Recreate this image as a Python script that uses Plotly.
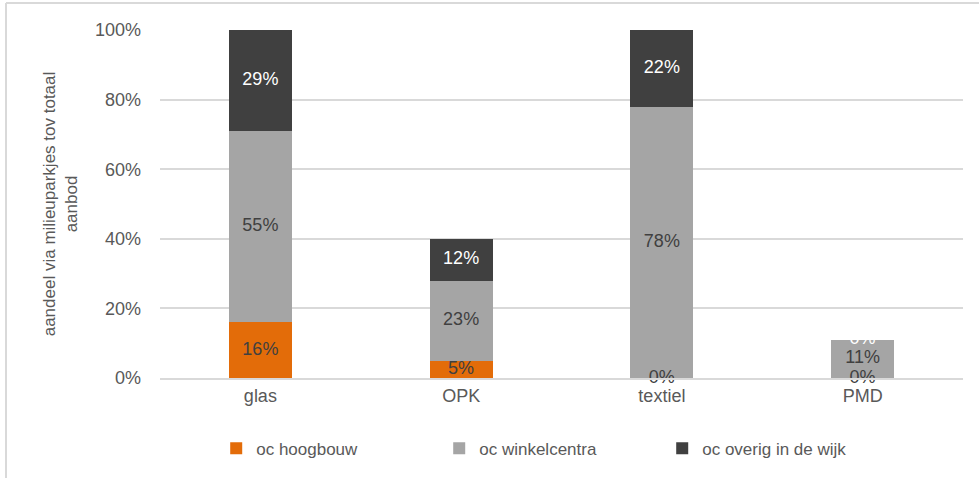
import plotly.graph_objects as go

categories = ["glas", "OPK", "textiel", "PMD"]
series_names = ["oc hoogbouw", "oc winkelcentra", "oc overig in de wijk"]
hoogbouw = [16, 5, 0, 0]
winkelcentra = [55, 23, 78, 11]
overig = [29, 12, 22, 0]
colors = ["#E36C09", "#A5A5A5", "#404040"]
label_colors = ["#404040", "#404040", "#FFFFFF"]
y_ticks = [0, 20, 40, 60, 80, 100]
y_title = "aandeel via milieuparkjes tov totaal<br>aanbod"

FONT = "Liberation Sans, Arial, sans-serif"
fig = go.Figure()
all_series = [hoogbouw, winkelcentra, overig]
for name, vals, col in zip(series_names, all_series, colors):
    fig.add_trace(go.Bar(x=categories, y=vals, name=name, marker_color=col,
                         marker_line_width=0, width=0.315, hoverinfo="skip"))

# data labels
base = [0] * len(categories)
for vals, lc in zip(all_series, label_colors):
    mids = [b + v / 2 for b, v in zip(base, vals)]
    fig.add_trace(go.Scatter(x=categories, y=mids, mode="text",
                             text=[f"{v}%" for v in vals],
                             textfont=dict(family=FONT, size=18, color=lc),
                             showlegend=False, cliponaxis=False, hoverinfo="skip"))
    base = [b + v for b, v in zip(base, vals)]

fig.update_layout(
    barmode="stack",
    width=979, height=478,
    margin=dict(l=160, r=16, t=30, b=99),
    paper_bgcolor="white", plot_bgcolor="white",
    font=dict(family=FONT, size=18, color="#595959"),
    xaxis=dict(showgrid=False, showline=True, linecolor="#D9D9D9", linewidth=2,
               ticks="", tickfont=dict(size=18, color="#595959")),
    yaxis=dict(range=[0, 100], tickvals=y_ticks, ticktext=[f"{t}%" for t in y_ticks],
               showgrid=True, gridcolor="#D9D9D9", gridwidth=2, zeroline=False,
               showline=False, ticks="", ticklabelstandoff=18,
               tickfont=dict(size=18, color="#595959"),
               title=dict(text=y_title, font=dict(size=17, color="#595959"), standoff=12)),
    legend=dict(orientation="h", x=0.07, y=-0.2, xanchor="left", yanchor="middle",
                font=dict(size=17, color="#595959"), entrywidth=178, entrywidthmode="pixels",
                traceorder="normal", itemclick=False, itemwidth=30),
    bargap=0.685,
)
# frame lines
fig.add_shape(type="line", xref="paper", yref="paper", x0=-0.1918, x1=1.03, y0=1.0774, y1=1.0774,
              line=dict(color="#D9D9D9", width=2))
fig.add_shape(type="line", xref="paper", yref="paper", x0=-0.1918, x1=-0.1918, y0=1.0774, y1=-0.29,
              line=dict(color="#D9D9D9", width=2))
fig.write_html("out.html")
